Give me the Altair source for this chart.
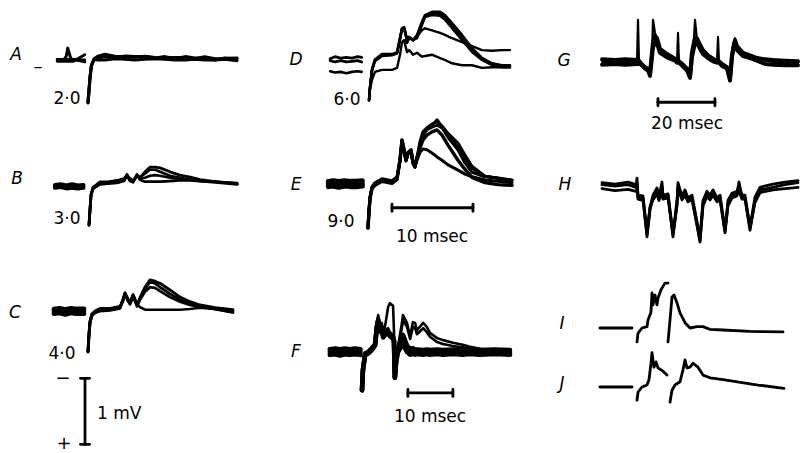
import altair as alt
import pandas as pd

# Oscilloscope records: time in ms after the stimulus, potential in mV
# (negativity plotted upward, as marked on the calibration bar).

# ---- A: 2.0 stimulus -------------------------------------------------------
A_T_PRE = [-3.8, -3.0, -2.7, -2.5, -2.2, -2.0, -1.8, -0.4]
A_PRE_1 = [0.0, 0.0, 0.05, 0.18, 0.05, 0.0, 0.0, 0.0]
A_PRE_2 = [-0.02, -0.02, -0.02, -0.02, -0.02, -0.02, -0.02, 0.08]
A_PRE_3 = [0.01, 0.01, 0.01, 0.01, 0.01, 0.01, 0.01, -0.03]
A_T = [0, 0.12, 0.25, 0.43, 0.74, 1.2, 2.1, 3.3, 4.6, 5.8, 7.0, 8.3, 9.5, 10.7, 12.0, 13.2, 14.4, 15.7, 16.9, 18.4]
A_1 = [-0.65, -0.48, -0.27, -0.09, 0.0, 0.03, 0.05, 0.03, 0.06, 0.05, 0.05, 0.03, 0.05, 0.02, 0.05, 0.03, 0.03, 0.0, 0.03, 0.02]
A_2 = [-0.65, -0.47, -0.25, -0.07, 0.02, 0.06, 0.09, 0.06, 0.05, 0.04, 0.06, 0.04, 0.03, 0.04, 0.04, 0.02, 0.05, 0.02, 0.02, 0.03]
A_3 = [-0.64, -0.46, -0.26, -0.08, 0.01, 0.0, 0.0, 0.02, 0.01, 0.0, 0.01, 0.02, 0.01, 0.0, 0.0, 0.01, 0.0, 0.0, 0.01, -0.01]

# ---- B: 3.0 -------------------------------------------------------------------
B_T_PRE = [-4.2, -3.5, -2.8, -2.1, -1.4, -0.7]
B_PRE_1 = [0.0, 0.01, -0.01, 0.01, -0.01, 0.0]
B_PRE_2 = [-0.04, -0.03, -0.05, -0.04, -0.05, -0.04]
B_PRE_3 = [-0.02, -0.01, -0.03, -0.02, -0.02, -0.02]
B_T = [0, 0.12, 0.25, 0.49, 0.86, 1.36, 2.35, 3.46, 4.32, 4.69, 5.06, 5.43, 5.93, 6.3, 6.91, 7.53, 8.15, 8.77, 10.0, 11.2, 12.5, 13.7, 15.6, 18.3]
B_1 = [-0.61, -0.38, -0.15, -0.05, -0.02, 0.03, 0.03, 0.05, 0.08, 0.15, 0.08, 0.05, 0.15, 0.11, 0.2, 0.27, 0.27, 0.26, 0.2, 0.15, 0.12, 0.08, 0.05, 0.02]
B_2 = [-0.61, -0.37, -0.14, -0.03, 0.0, 0.05, 0.05, 0.07, 0.1, 0.13, 0.1, 0.07, 0.13, 0.12, 0.17, 0.23, 0.23, 0.2, 0.14, 0.11, 0.08, 0.06, 0.05, 0.02]
B_3 = [-0.6, -0.39, -0.16, -0.06, -0.03, 0.01, 0.02, 0.03, 0.06, 0.14, 0.06, 0.04, 0.14, 0.1, 0.11, 0.14, 0.15, 0.14, 0.11, 0.09, 0.08, 0.06, 0.05, 0.03]
B_4 = [-0.6, -0.38, -0.15, -0.05, -0.02, 0.02, 0.04, 0.04, 0.07, 0.16, 0.07, 0.05, 0.16, 0.08, 0.05, 0.05, 0.05, 0.05, 0.06, 0.07, 0.07, 0.06, 0.04, 0.01]

# ---- C: 4.0 -------------------------------------------------------------------
C_T_PRE = [-4.2, -3.5, -2.8, -2.1, -1.4, -0.5]
C_PRE_1 = [0.03, 0.04, 0.02, 0.04, 0.03, 0.03]
C_PRE_2 = [-0.04, -0.03, -0.05, -0.03, -0.04, -0.04]
C_PRE_3 = [0.0, 0.01, -0.01, 0.01, 0.0, 0.0]
C_T = [0, 0.12, 0.25, 0.49, 0.86, 1.48, 2.72, 3.95, 4.32, 4.57, 4.94, 5.19, 5.56, 5.8, 6.05, 6.42, 7.04, 7.65, 8.27, 8.89, 10.12, 11.36, 12.59, 13.83, 15.68, 17.9]
C_1 = [-0.62, -0.36, -0.17, -0.06, -0.02, 0.02, 0.02, 0.05, 0.17, 0.27, 0.17, 0.12, 0.24, 0.17, 0.09, 0.2, 0.36, 0.47, 0.45, 0.42, 0.32, 0.21, 0.14, 0.09, 0.05, 0.02]
C_2 = [-0.62, -0.35, -0.15, -0.04, 0.0, 0.04, 0.04, 0.07, 0.15, 0.25, 0.15, 0.1, 0.22, 0.15, 0.07, 0.17, 0.29, 0.36, 0.35, 0.3, 0.21, 0.14, 0.09, 0.06, 0.03, 0.0]
C_3 = [-0.61, -0.37, -0.18, -0.07, -0.03, 0.0, 0.01, 0.04, 0.16, 0.26, 0.16, 0.11, 0.23, 0.16, 0.08, 0.18, 0.33, 0.44, 0.42, 0.36, 0.26, 0.17, 0.11, 0.08, 0.03, -0.02]
C_4 = [-0.61, -0.36, -0.16, -0.05, -0.01, 0.03, 0.03, 0.06, 0.18, 0.28, 0.18, 0.13, 0.25, 0.18, 0.1, 0.06, 0.02, 0.02, 0.02, 0.02, 0.02, 0.02, 0.03, 0.05, 0.03, -0.02]

# ---- D: 6.0 -------------------------------------------------------------------
D_T_PRE = [-4.8, -4.2, -3.5, -2.8, -2.1, -1.4, -0.9]
D_PRE_1 = [0.02, 0.05, 0.03, 0.04, 0.03, 0.05, 0.04]
D_PRE_2 = [-0.01, -0.03, -0.01, -0.03, -0.02, -0.01, -0.03]
D_PRE_3 = [-0.17, -0.19, -0.18, -0.2, -0.18, -0.17, -0.18]
D_T = [0, 0.12, 0.37, 0.74, 1.6, 2.84, 3.46, 3.83, 4.07, 4.32, 4.57, 4.69, 4.94, 5.19, 5.43, 5.93, 6.54, 6.91, 7.78, 8.77, 9.38, 10.25, 11.48, 12.72, 13.95, 15.19, 16.42, 17.41]
D_1 = [-0.61, -0.42, -0.15, 0.0, 0.08, 0.08, 0.11, 0.33, 0.48, 0.5, 0.38, 0.27, 0.35, 0.33, 0.3, 0.38, 0.58, 0.68, 0.73, 0.73, 0.68, 0.56, 0.38, 0.18, 0.03, -0.05, -0.08, -0.08]
D_2 = [-0.61, -0.41, -0.14, 0.01, 0.09, 0.09, 0.12, 0.34, 0.47, 0.48, 0.37, 0.26, 0.33, 0.32, 0.3, 0.33, 0.53, 0.65, 0.68, 0.67, 0.61, 0.48, 0.3, 0.12, 0.0, -0.08, -0.11, -0.11]
D_3 = [-0.61, -0.43, -0.16, -0.02, 0.06, 0.07, 0.1, 0.31, 0.46, 0.49, 0.36, 0.26, 0.34, 0.32, 0.3, 0.36, 0.45, 0.48, 0.45, 0.41, 0.38, 0.33, 0.27, 0.21, 0.15, 0.14, 0.15, 0.15]
D_4 = [-0.61, -0.42, -0.15, 0.0, 0.07, 0.08, 0.1, 0.32, 0.47, 0.49, 0.37, 0.27, 0.34, 0.32, 0.3, 0.36, 0.55, 0.66, 0.71, 0.7, 0.64, 0.52, 0.33, 0.15, 0.02, -0.06, -0.09, -0.1]
D_5 = [-0.61, -0.45, -0.3, -0.18, -0.15, -0.15, -0.12, 0.08, 0.27, 0.3, 0.18, 0.12, 0.15, 0.12, 0.08, 0.11, 0.05, 0.06, 0.08, 0.03, 0.0, -0.05, -0.08, -0.08, -0.12, -0.11, -0.11, -0.11]

# ---- E: 9.0 -------------------------------------------------------------------
E_T_PRE = [-4.9, -4.3, -3.6, -2.9, -2.2, -1.5, -0.7]
E_PRE_1 = [0.04, 0.05, 0.04, 0.05, 0.04, 0.04, 0.05]
E_PRE_2 = [0.0, 0.01, -0.01, 0.01, 0.0, 0.01, 0.0]
E_PRE_3 = [-0.04, -0.03, -0.05, -0.03, -0.04, -0.04, -0.03]
E_T = [0, 0.12, 0.25, 0.49, 0.86, 1.73, 2.96, 3.58, 3.95, 4.2, 4.44, 4.69, 4.94, 5.31, 5.56, 5.8, 6.17, 6.42, 6.79, 7.28, 7.9, 8.52, 9.14, 9.88, 11.11, 11.98, 12.84, 14.44, 16.05, 17.78]
E_1 = [-0.67, -0.42, -0.21, -0.06, 0.0, 0.06, 0.03, 0.09, 0.36, 0.67, 0.52, 0.36, 0.47, 0.52, 0.32, 0.26, 0.47, 0.64, 0.79, 0.85, 0.89, 0.97, 0.86, 0.71, 0.52, 0.32, 0.18, 0.11, 0.09, 0.06]
E_2 = [-0.67, -0.41, -0.2, -0.04, 0.02, 0.08, 0.05, 0.11, 0.34, 0.64, 0.5, 0.35, 0.45, 0.5, 0.3, 0.25, 0.45, 0.59, 0.73, 0.82, 0.86, 0.89, 0.85, 0.74, 0.56, 0.39, 0.24, 0.12, 0.09, 0.05]
E_3 = [-0.66, -0.43, -0.22, -0.07, -0.02, 0.04, 0.01, 0.07, 0.37, 0.66, 0.53, 0.37, 0.48, 0.51, 0.33, 0.27, 0.46, 0.55, 0.67, 0.74, 0.79, 0.82, 0.74, 0.59, 0.36, 0.22, 0.1, 0.02, -0.01, -0.02]
E_4 = [-0.67, -0.42, -0.21, -0.05, 0.01, 0.07, 0.04, 0.1, 0.35, 0.65, 0.51, 0.36, 0.46, 0.51, 0.31, 0.26, 0.46, 0.58, 0.73, 0.85, 0.91, 0.94, 0.88, 0.77, 0.62, 0.44, 0.27, 0.12, 0.09, 0.05]
E_5 = [-0.66, -0.42, -0.21, -0.06, 0.0, 0.06, 0.02, 0.08, 0.36, 0.66, 0.5, 0.35, 0.46, 0.5, 0.32, 0.27, 0.4, 0.48, 0.53, 0.52, 0.47, 0.41, 0.36, 0.29, 0.21, 0.15, 0.11, 0.06, 0.04, 0.02]

# ---- F: paired stimuli --------------------------------------------------------
F_T_PRE = [-7.1, -6.0, -4.9, -3.8, -2.7, -1.6, -0.4]
F_PRE_1 = [0.04, 0.05, 0.04, 0.05, 0.04, 0.05, 0.04]
F_PRE_2 = [0.0, 0.01, -0.01, 0.01, 0.0, 0.01, 0.0]
F_PRE_3 = [-0.04, -0.03, -0.05, -0.03, -0.04, -0.03, -0.04]
F_T = [0, 0.2, 0.7, 1.3, 2.2, 2.9, 3.3, 3.6, 4.0, 4.4, 4.7, 5.1, 5.8, 6.2, 6.9, 7.1, 7.3, 7.6, 8.0, 8.9, 9.1, 10.0, 10.7, 11.3, 11.8, 12.2, 13.6, 14.4, 15.1, 16.7, 18.0, 20.2, 22.4, 24.0, 26.2, 29.6, 32.9]
F_1 = [-0.58, -0.27, -0.02, 0.0, 0.06, 0.14, 0.45, 0.56, 0.38, 0.44, 0.29, 0.38, 0.68, 0.74, 0.70, 0.33, -0.39, -0.12, 0.08, 0.45, 0.56, 0.44, 0.23, 0.45, 0.44, 0.33, 0.44, 0.38, 0.29, 0.21, 0.18, 0.14, 0.11, 0.08, 0.05, 0.02, 0.0]
F_2 = [-0.58, -0.28, -0.03, -0.01, 0.05, 0.12, 0.40, 0.50, 0.36, 0.40, 0.27, 0.33, 0.36, 0.30, 0.26, 0.20, -0.39, -0.12, 0.06, 0.38, 0.48, 0.38, 0.20, 0.38, 0.36, 0.27, 0.36, 0.30, 0.23, 0.15, 0.12, 0.09, 0.07, 0.05, 0.03, 0.01, -0.01]
F_3 = [-0.58, -0.28, -0.03, -0.01, 0.05, 0.11, 0.38, 0.48, 0.33, 0.36, 0.24, 0.28, 0.30, 0.26, 0.22, 0.18, -0.39, -0.12, 0.03, 0.20, 0.24, 0.08, 0.02, 0.04, 0.02, 0.01, 0.0, 0.01, 0.0, -0.01, 0.01, 0.0, -0.01, 0.01, 0.0, -0.01, 0.0]
F_4 = [-0.58, -0.28, -0.04, -0.03, 0.03, 0.1, 0.36, 0.46, 0.31, 0.34, 0.22, 0.26, 0.28, 0.24, 0.2, 0.16, -0.39, -0.14, 0.0, 0.1, 0.12, 0.0, -0.04, -0.03, -0.04, -0.03, -0.04, -0.03, -0.04, -0.03, -0.04, -0.03, -0.04, -0.03, -0.04, -0.03, -0.04]
F_5 = [-0.58, -0.27, -0.02, 0.0, 0.06, 0.12, 0.39, 0.49, 0.34, 0.37, 0.25, 0.29, 0.31, 0.27, 0.23, 0.19, -0.39, -0.11, 0.05, 0.22, 0.26, 0.1, 0.05, 0.06, 0.04, 0.04, 0.03, 0.04, 0.03, 0.04, 0.03, 0.04, 0.03, 0.04, 0.03, 0.04, 0.03]

# ---- G: repetitive firing (slow sweep) ----------------------------------------
G_T = [-12.6, -8.1, -4.6, -0.35, 0.0, 0.35, 1.05, 2.46, 3.51, 4.21, 4.91, 5.26, 5.96, 6.67, 7.72, 10.18, 12.98, 13.68, 14.04, 14.39,
       15.79, 17.19, 18.25, 18.95, 19.65, 20.0, 20.7, 21.75, 22.81, 24.56, 26.32, 27.72, 28.07, 28.42, 29.47, 31.23, 32.28, 32.98, 33.68, 34.04,
       34.74, 36.84, 39.3, 41.75, 44.56, 47.37, 51.58, 56.14]
G_1 = [0.0, 0.0, 0.0, 0.0, 0.64, 0.0, -0.03, -0.09, -0.12, -0.2, 0.11, 0.64, 0.44, 0.33, 0.15, 0.08, 0.03, 0.0, 0.44, 0.0,
       -0.06, -0.12, -0.23, 0.11, 0.36, 0.64, 0.33, 0.21, 0.14, 0.08, 0.03, 0.0, 0.38, 0.0, -0.05, -0.09, -0.27, 0.11, 0.3, 0.36,
       0.21, 0.11, 0.08, 0.05, 0.02, 0.0, -0.02, -0.02]
G_2 = [0.04, 0.03, 0.04, 0.03, 0.03, 0.02, -0.02, -0.08, -0.1, -0.17, 0.15, 0.3, 0.4, 0.36, 0.2, 0.12, 0.05, 0.02, 0.02, 0.01,
       -0.04, -0.1, -0.2, 0.15, 0.3, 0.36, 0.36, 0.26, 0.18, 0.1, 0.05, 0.02, 0.02, 0.01, -0.03, -0.08, -0.24, 0.1, 0.28, 0.33,
       0.24, 0.14, 0.1, 0.06, 0.04, 0.03, 0.02, 0.01]
G_3 = [-0.04, -0.03, -0.04, -0.03, -0.03, -0.02, -0.04, -0.1, -0.13, -0.21, 0.08, 0.22, 0.3, 0.28, 0.14, 0.07, 0.02, -0.01, -0.01, -0.01,
       -0.07, -0.13, -0.24, 0.08, 0.22, 0.28, 0.3, 0.2, 0.12, 0.06, 0.01, -0.01, -0.01, -0.01, -0.06, -0.1, -0.28, 0.08, 0.25, 0.3,
       0.18, 0.09, 0.06, 0.02, -0.03, -0.04, -0.05, -0.05]

# ---- H: repetitive firing, reversed polarity ----------------------------------
H_T = [-12.28, -7.72, -3.16, -0.35, 0.0, 0.35, 2.11, 3.51, 4.56, 5.61, 7.02, 7.72, 8.77, 9.12, 10.88, 12.63, 14.04, 14.39, 15.79, 16.84,
       17.89, 19.3, 22.11, 23.16, 24.56, 25.61, 26.67, 28.07, 29.12, 30.88, 31.93, 33.33, 35.09, 35.79, 36.84, 37.89, 39.65, 41.4, 43.16, 47.72,
       51.93, 56.49]
H_1 = [0.02, 0.0, 0.02, -0.02, 0.12, -0.17, -0.18, -0.77, -0.36, -0.17, -0.06, -0.18, 0.06, -0.17, -0.14, -0.77, -0.26, 0.05, -0.17, -0.09,
       -0.21, -0.17, -0.85, -0.26, -0.11, -0.17, -0.09, -0.21, -0.17, -0.71, -0.26, -0.14, -0.11, 0.06, -0.17, -0.17, -0.67, -0.21, -0.06, -0.02,
       0.02, 0.05]
H_2 = [-0.04, -0.07, -0.05, -0.08, -0.04, -0.2, -0.22, -0.74, -0.33, -0.21, -0.12, -0.22, -0.08, -0.2, -0.18, -0.74, -0.3, -0.05, -0.21, -0.14,
       -0.24, -0.21, -0.82, -0.3, -0.16, -0.21, -0.14, -0.24, -0.21, -0.69, -0.3, -0.18, -0.15, -0.06, -0.2, -0.2, -0.64, -0.25, -0.1, -0.06,
       -0.04, -0.02]
H_3 = [0.05, 0.03, 0.06, 0.02, 0.05, -0.14, -0.15, -0.7, -0.32, -0.14, -0.03, -0.15, 0.0, -0.14, -0.12, -0.72, -0.22, 0.0, -0.14, -0.06,
       -0.18, -0.14, -0.78, -0.22, -0.08, -0.14, -0.06, -0.18, -0.14, -0.66, -0.22, -0.11, -0.08, 0.0, -0.14, -0.14, -0.62, -0.17, -0.02, 0.03,
       0.06, 0.08]

# ---- I and J: single sweeps ----------------------------------------------------
IJ_T_PRE = [-13.0, -1.75]
IJ_PRE = [0.0, 0.0]
I_T_1 = [0, 0.35, 1.75, 3.51, 3.86, 4.91, 5.26, 5.61, 6.32, 7.02, 7.37, 8.42, 9.82, 10.88]
I_1 = [-0.21, -0.08, 0.0, 0.02, 0.12, 0.24, 0.53, 0.35, 0.5, 0.35, 0.45, 0.58, 0.68, 0.68]
I_T_2 = [10.88, 11.58, 12.28, 12.98, 14.04, 15.09, 16.84, 18.6, 21.05, 23.16, 25.61, 30.18, 39.65, 51.23]
I_2 = [-0.21, 0.12, 0.47, 0.5, 0.38, 0.23, 0.08, 0.0, 0.02, 0.02, -0.02, -0.03, -0.05, -0.06]
J_T_1 = [0, 0.35, 1.75, 3.51, 4.21, 4.91, 5.26, 5.96, 6.67, 7.37, 9.12, 10.53]
J_1 = [-0.2, -0.08, 0.0, 0.03, 0.11, 0.36, 0.52, 0.3, 0.38, 0.29, 0.24, 0.18]
J_T_2 = [11.58, 12.28, 13.33, 15.09, 16.14, 16.84, 17.54, 18.6, 19.65, 21.4, 23.16, 25.61, 30.18, 42.46, 51.58]
J_2 = [-0.23, -0.05, 0.03, 0.08, 0.26, 0.41, 0.29, 0.3, 0.36, 0.3, 0.18, 0.14, 0.11, 0.03, -0.02]

# stimulus strengths written beside A-E
STIM = {"A": "2·0", "B": "3·0", "C": "4·0", "D": "6·0", "E": "9·0"}

# calibrations: (record, t0 ms, t1 ms, v0 mV, v1 mV, caption)
CALIB = [
    ("E", 2.96, 12.96, -0.36, -0.36, "10 msec"),
    ("F", 10.2, 20.2, -0.62, -0.62, "10 msec"),
    ("G", 7.0, 27.0, -0.61, -0.61, "20 msec"),
    ("C", -0.37, -0.37, -1.02, -2.02, "1 mV"),
]

# ---- page layout -----------------------------------------------------------------
W, H = 800, 453
PX_PER_MV = 66.0
# stimulus instant / baseline of each record on the page, and its time base (px per ms)
ORIGIN = {
    "A": (88, 60, 8.1), "B": (89, 185, 8.1), "C": (88, 311, 8.1),
    "D": (369, 60, 8.1), "E": (368, 184, 8.1), "F": (362, 352, 4.5),
    "G": (638, 62, 2.85), "H": (637, 186, 2.85), "I": (637, 328, 2.85), "J": (637, 387, 2.85),
}
LETTER_POS = {
    "A": (16, 55), "B": (17, 179), "C": (15, 313), "D": (296, 60), "E": (296, 185),
    "F": (296, 352), "G": (564, 61), "H": (565, 185), "I": (562, 324), "J": (562, 384),
}
STIM_POS = {"A": (67, 99), "B": (67, 219), "C": (62, 354), "D": (347, 100), "E": (341, 222)}
CAPTION_POS = [(432, 237), (430, 417), (687, 124), (97, 414)]
SIGN_POS = [("−", 63, 379), ("+", 64, 444), ("–", 38, 67)]

SWEEPS = [
    ("A", A_T_PRE, A_PRE_1, 3.0), ("A", A_T_PRE, A_PRE_2, 2.8), ("A", A_T_PRE, A_PRE_3, 2.8),
    ("A", A_T, A_1, 3.2), ("A", A_T, A_2, 2.8), ("A", A_T, A_3, 3.0),
    ("B", B_T_PRE, B_PRE_1, 4.2), ("B", B_T_PRE, B_PRE_2, 4.2), ("B", B_T_PRE, B_PRE_3, 4.2),
    ("B", B_T, B_1, 2.8), ("B", B_T, B_2, 2.6), ("B", B_T, B_3, 2.6), ("B", B_T, B_4, 2.8),
    ("C", C_T_PRE, C_PRE_1, 4.8), ("C", C_T_PRE, C_PRE_2, 4.8), ("C", C_T_PRE, C_PRE_3, 4.8),
    ("C", C_T, C_1, 3.0), ("C", C_T, C_2, 2.6), ("C", C_T, C_3, 2.8), ("C", C_T, C_4, 2.6),
    ("D", D_T_PRE, D_PRE_1, 2.8), ("D", D_T_PRE, D_PRE_2, 2.8), ("D", D_T_PRE, D_PRE_3, 2.6),
    ("D", D_T, D_1, 2.6), ("D", D_T, D_2, 2.4), ("D", D_T, D_3, 2.4), ("D", D_T, D_4, 2.4), ("D", D_T, D_5, 2.4),
    ("E", E_T_PRE, E_PRE_1, 5.0), ("E", E_T_PRE, E_PRE_2, 5.0), ("E", E_T_PRE, E_PRE_3, 5.0),
    ("E", E_T, E_1, 3.2), ("E", E_T, E_2, 2.8), ("E", E_T, E_3, 3.4), ("E", E_T, E_4, 2.8), ("E", E_T, E_5, 3.0),
    ("F", F_T_PRE, F_PRE_1, 5.0), ("F", F_T_PRE, F_PRE_2, 5.0), ("F", F_T_PRE, F_PRE_3, 5.0),
    ("F", F_T, F_1, 2.6), ("F", F_T, F_2, 2.6), ("F", F_T, F_3, 4.6), ("F", F_T, F_4, 4.6), ("F", F_T, F_5, 4.4),
    ("G", G_T, G_1, 2.2), ("G", G_T, G_2, 4.0), ("G", G_T, G_3, 4.0),
    ("H", H_T, H_1, 2.8), ("H", H_T, H_2, 2.8), ("H", H_T, H_3, 2.8),
    ("I", IJ_T_PRE, IJ_PRE, 2.8), ("I", I_T_1, I_1, 2.8), ("I", I_T_2, I_2, 2.8),
    ("J", IJ_T_PRE, IJ_PRE, 2.8), ("J", J_T_1, J_1, 2.8), ("J", J_T_2, J_2, 2.8),
]


def to_page(rec, t, v):
    x0, y0, ms_px = ORIGIN[rec]
    return x0 + t * ms_px, y0 - v * PX_PER_MV


rows = []
for n, (rec, ts, vs, w) in enumerate(SWEEPS):
    for i, (t, v) in enumerate(zip(ts, vs)):
        x, y = to_page(rec, t, v)
        rows.append({"sweep": n, "i": i, "x": x, "y": y, "w": w})
traces = pd.DataFrame(rows)

CAP = 3.5  # half length of the end stops on calibration bars
bars = []
for rec, t0, t1, v0, v1, _ in CALIB:
    xa, ya = to_page(rec, t0, v0)
    xb, yb = to_page(rec, t1, v1)
    bars.append({"x": xa, "x2": xb, "y": ya, "y2": yb})
    if ya == yb:
        for xe in (xa, xb):
            bars.append({"x": xe, "x2": xe, "y": ya - CAP, "y2": ya + CAP})
    else:
        for ye in (ya, yb):
            bars.append({"x": xa - CAP - 1, "x2": xa + CAP + 1, "y": ye, "y2": ye})
bars = pd.DataFrame(bars)

letters = pd.DataFrame([{"x": LETTER_POS[k][0], "y": LETTER_POS[k][1], "t": k} for k in LETTER_POS])
words = [{"x": STIM_POS[k][0], "y": STIM_POS[k][1], "t": s} for k, s in STIM.items()]
words += [{"x": p[0], "y": p[1], "t": c[5]} for p, c in zip(CAPTION_POS[:3], CALIB[:3])]
signs = pd.DataFrame([{"x": x, "y": y, "t": s} for s, x, y in SIGN_POS])
words = pd.DataFrame(words)
mv_label = pd.DataFrame([{"x": CAPTION_POS[3][0], "y": CAPTION_POS[3][1], "t": CALIB[3][5]}])

X = alt.X("x:Q", scale=alt.Scale(domain=[0, W], nice=False, zero=False), axis=None)
Y = alt.Y("y:Q", scale=alt.Scale(domain=[H, 0], nice=False, zero=False), axis=None)

lines = alt.Chart(traces).mark_line(color="black", strokeCap="round", strokeJoin="round").encode(
    x=X, y=Y, detail="sweep:N", order="i:Q",
    strokeWidth=alt.StrokeWidth("w:Q", scale=None),
)
calib = alt.Chart(bars).mark_rule(color="black", strokeWidth=2.8, strokeCap="round").encode(
    x=X, x2="x2:Q", y=Y, y2="y2:Q"
)
FONT = "DejaVu Sans"
letter_txt = alt.Chart(letters).mark_text(
    font=FONT, fontSize=17, fontStyle="italic", baseline="middle", align="center", color="black"
).encode(x=X, y=Y, text="t:N")
word_txt = alt.Chart(words).mark_text(
    font=FONT, fontSize=17, baseline="middle", align="center", color="black"
).encode(x=X, y=Y, text="t:N")
mv_txt = alt.Chart(mv_label).mark_text(
    font=FONT, fontSize=17, baseline="middle", align="left", color="black"
).encode(x=X, y=Y, text="t:N")
sign_txt = alt.Chart(signs).mark_text(
    font=FONT, fontSize=18, baseline="middle", align="center", color="black"
).encode(x=X, y=Y, text="t:N")

chart = alt.layer(lines, calib, letter_txt, word_txt, mv_txt, sign_txt).properties(
    width=W, height=H, autosize=alt.AutoSizeParams(type="none"), padding=0, background="white"
).configure_view(stroke=None)

chart.save("out.html", embed_options={"renderer": "svg", "actions": False})
